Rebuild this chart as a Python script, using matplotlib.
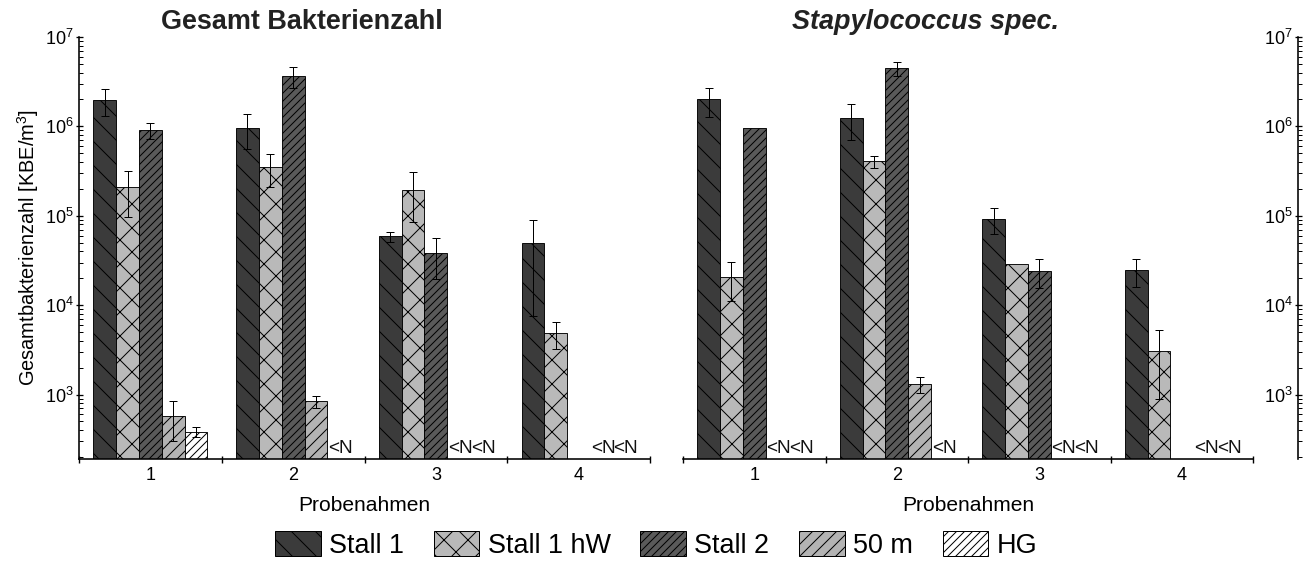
import numpy as np
import matplotlib
matplotlib.use("Agg")
import matplotlib.pyplot as plt
from matplotlib.patches import Patch
from matplotlib.ticker import FixedLocator, LogLocator, NullFormatter, NullLocator

# ---------------------------------------------------------------
# data (KBE/m^3), None = not present / below detection (<N)
# ---------------------------------------------------------------
probenahmen = [1, 2, 3, 4]
series = ["Stall 1", "Stall 1 hW", "Stall 2", "50 m", "HG"]

gesamt_stall1 = [1.96e6, 9.6e5, 5.9e4, 4.9e4]
gesamt_stall1_err = [0.65e6, 0.4e6, 7.5e3, 4.15e4]
gesamt_hw = [2.08e5, 3.5e5, 1.95e5, 4.9e3]
gesamt_hw_err = [1.1e5, 1.4e5, 1.1e5, 1.65e3]
gesamt_stall2 = [9.0e5, 3.65e6, 3.8e4, None]
gesamt_stall2_err = [1.8e5, 0.95e6, 1.85e4, None]
gesamt_50m = [570, 840, None, None]
gesamt_50m_err = [270, 125, None, None]
gesamt_hg = [385, None, None, None]
gesamt_hg_err = [47, None, None, None]
gesamt_nd = [(2, "HG"), (3, "50 m"), (3, "HG"), (4, "50 m"), (4, "HG")]

staph_stall1 = [2.0e6, 1.24e6, 9.2e4, 2.45e4]
staph_stall1_err = [0.72e6, 0.54e6, 3.0e4, 8.6e3]
staph_hw = [2.07e4, 4.07e5, 2.86e4, 3.1e3]
staph_hw_err = [9.5e3, 6.5e4, None, 2.2e3]
staph_stall2 = [9.6e5, 4.45e6, 2.41e4, None]
staph_stall2_err = [None, 0.8e6, 8.5e3, None]
staph_50m = [None, 1.31e3, None, None]
staph_50m_err = [None, 260, None, None]
staph_hg = [None, None, None, None]
staph_hg_err = [None, None, None, None]
staph_nd = [(1, "50 m"), (1, "HG"), (2, "HG"), (3, "50 m"), (3, "HG"),
            (4, "50 m"), (4, "HG")]

# looks of the five series
fills = ["#3b3b3b", "#b9b9b9", "#5a5a5a", "#b3b3b3", "#ffffff"]
hatches = ["\\", "x", "///", "//", "///"]

plt.rcParams["font.family"] = ["Liberation Sans", "DejaVu Sans"]
plt.rcParams["mathtext.fontset"] = "custom"
plt.rcParams["mathtext.rm"] = "Liberation Sans"
plt.rcParams["hatch.linewidth"] = 1.0
plt.rcParams["hatch.color"] = "black"

BAR_W = 0.16
YMIN, YMAX = 190, 1e7


def _nums(values):
	"""None -> nan"""
	return np.array([np.nan if v is None else v for v in values], dtype=float)
# end def


def _log_y(ax):
	ax.set_yscale("log")
	ax.set_ylim(YMIN, YMAX)
	ax.yaxis.set_major_locator(LogLocator(base=10, numticks=10))
	ax.yaxis.set_minor_locator(LogLocator(base=10, subs=np.arange(2, 10), numticks=10))
	ax.yaxis.set_minor_formatter(NullFormatter())
	ax.tick_params(axis="y", which="major", length=7, width=1.3, direction="inout", labelsize=18, pad=2)
	ax.tick_params(axis="y", which="minor", length=4, width=1.0, direction="in")
# end def


def _style_axis(ax, show_y=True):
	ax.set_xlim(0.5, 4.5)
	for s in ["top", "right"]:
		ax.spines[s].set_visible(False)
	ax.spines["bottom"].set_linewidth(1.6)
	ax.spines["left"].set_linewidth(1.6)
	ax.spines["left"].set_visible(show_y)
	ax.xaxis.set_major_locator(FixedLocator(probenahmen))
	ax.xaxis.set_minor_locator(FixedLocator([0.5, 1.5, 2.5, 3.5, 4.5]))
	ax.tick_params(axis="x", which="major", length=0, labelsize=18, pad=8)
	ax.tick_params(axis="x", which="minor", length=7, width=1.4, direction="inout")
	_log_y(ax)
	if not show_y:
		ax.yaxis.set_major_locator(NullLocator())
		ax.yaxis.set_minor_locator(NullLocator())
	ax.set_xlabel("Probenahmen", fontsize=21, labelpad=12)
# end def


def _plot_panel(ax, values, errors, not_detected):
	"""Plots one group of five bar series"""
	x = np.array(probenahmen, dtype=float)
	for i in range(len(series)):
		pos = x + (i - 2) * BAR_W
		ax.bar(pos, _nums(values[i]), BAR_W, color=fills[i], edgecolor="black",
			linewidth=0.9, hatch=hatches[i], zorder=2)
		ax.errorbar(pos, _nums(values[i]), yerr=_nums(errors[i]), fmt="none",
			ecolor="black", elinewidth=1.0, capsize=4, capthick=1.0, zorder=3)
	# end for
	for group, name in not_detected:
		i = series.index(name)
		ax.text(group + (i - 2.5) * BAR_W + 0.005, 0.004, "<N", fontsize=19,
			transform=ax.get_xaxis_transform(), ha="left", va="bottom",
			color="#111111")
	# end for
# end def


fig = plt.figure(figsize=(1312 / 72, 581 / 72), dpi=72)

ax1 = fig.add_axes([79 / 1312, 122 / 581, 571 / 1312, 422 / 581])
ax2 = fig.add_axes([683 / 1312, 122 / 581, 570 / 1312, 422 / 581])
ax3 = fig.add_axes([1298 / 1312, 122 / 581, 0.4, 422 / 581])

_plot_panel(ax1,
	[gesamt_stall1, gesamt_hw, gesamt_stall2, gesamt_50m, gesamt_hg],
	[gesamt_stall1_err, gesamt_hw_err, gesamt_stall2_err, gesamt_50m_err, gesamt_hg_err],
	gesamt_nd)
_plot_panel(ax2,
	[staph_stall1, staph_hw, staph_stall2, staph_50m, staph_hg],
	[staph_stall1_err, staph_hw_err, staph_stall2_err, staph_50m_err, staph_hg_err],
	staph_nd)

_style_axis(ax1)
_style_axis(ax2, show_y=False)
ax1.set_ylabel("Gesamtbakterienzahl [KBE/m$^3$]", fontsize=20, labelpad=4)

# cut-off third panel at the right edge
_log_y(ax3)
ax3.set_xlim(0, 1)
for s in ["top", "right", "bottom"]:
	ax3.spines[s].set_visible(False)
ax3.spines["left"].set_linewidth(1.6)
ax3.set_xticks([])

fig.text(302 / 1312, 1 - 22 / 581, "Gesamt Bakterienzahl", fontsize=27,
	fontweight="bold", ha="center", va="center", color="#222222")
fig.text(925 / 1312, 1 - 22 / 581, "Stapylococcus spec.", fontsize=27,
	fontweight="bold", fontstyle="italic", ha="center", va="center", color="#222222")

handles = [Patch(facecolor=fills[i], edgecolor="black", hatch=hatches[i], linewidth=1.0)
	for i in range(len(series))]
fig.legend(handles, series, loc="center", bbox_to_anchor=(656 / 1312, 1 - 545 / 581),
	ncol=5, frameon=False, handlelength=1.7, handleheight=1.05,
	handletextpad=0.3, columnspacing=1.1,
	prop={"family": ["Liberation Sans Narrow", "Liberation Sans"], "size": 27})

fig.savefig("out.png", dpi=72)
